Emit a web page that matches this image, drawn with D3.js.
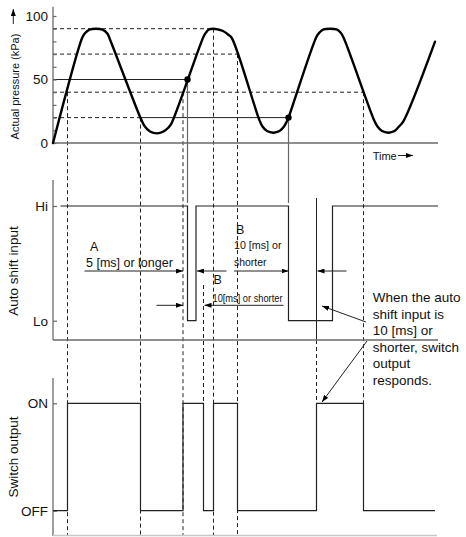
<!doctype html>
<html>
  <head>
    <meta charset="utf-8">
    <title>Auto shift input - timing chart</title>
    <style>
      body { margin: 0; background: #fff; }
      svg { display: block; font-family: "Liberation Sans", Arial, Helvetica, sans-serif; }
      .axis-line { stroke: #6a6a6a; stroke-width: 1.3; fill: none; }
      .guide { stroke: #222; stroke-width: 1; fill: none; }
      .dashed { stroke-dasharray: 4,3; }
      .signal { stroke: #222; stroke-width: 1.2; fill: none; }
      .pressure { stroke: #000; stroke-width: 2.4; fill: none; stroke-linejoin: round; stroke-linecap: round; }
      .gray { stroke: #666; stroke-width: 1.2; }
    </style>
  </head>
  <body>
    <svg id="chart" width="466" height="537"></svg>

<script src="https://cdn.jsdelivr.net/npm/d3@7"></script>

<script>
// pressure wave (time in arbitrary units, pressure in kPa)
var curveTime = [
  0, 5.8, 6.3, 7.3, 8.6, 9.9, 10.9, 11.4,            // rise, 1st peak
  17.4, 18.3, 19.4, 20.8, 22.1, 23.1, 23.7,           // 1st trough
  30.1, 30.6, 31.2, 32.1, 33.0, 34.1, 35.0, 35.7,     // 2nd peak
  41.2, 41.9, 42.8, 44.1, 45.3, 46.2, 46.8, 47.1,     // 2nd trough
  52.7, 53.3, 54.1, 55.4, 56.7, 57.5, 58.1,           // 3rd peak
  64.2, 64.9, 65.8, 67.1, 68.3, 69.2, 70.1,           // 3rd trough
  76.4
];
var curvePressure = [
  0, 82.5, 86, 89.2, 90, 89.2, 86, 81.5,
  20.7, 13.4, 9.1, 7.6, 9.1, 12.2, 15.5,
  83.7, 87, 89.4, 90, 89.4, 88, 85.4, 83.1,
  18.9, 13, 9.4, 8.1, 9.4, 13, 17.3, 20,
  83.7, 87, 89.4, 90, 89.4, 87, 83.1,
  18.1, 13, 9.4, 8.1, 9.4, 13, 17.3,
  79.8
];

var pressureTicks = [0, 10, 20, 30, 40, 50, 60, 70, 80, 90, 100];
var pressureLabels = [0, 50, 100];

// auto shift input (1 = Hi, 0 = Lo)
var inputTime = [1.5, 26.9, 28.6, 47.1, 55.9, 77];
var inputLevel = [1, 0, 1, 0, 1, 1];
var inputLabels = ['Lo', 'Hi'];

// switch output (1 = ON, 0 = OFF)
var outputTime = [0, 2.9, 17.5, 26.0, 30.1, 32.1, 36.9, 52.7, 62.1, 76.4];
var outputLevel = [0, 1, 0, 1, 0, 1, 0, 1, 0, 0];
var outputLabels = ['OFF', 'ON'];

// horizontal set-value lines in the pressure panel
var setLevel = [90, 70, 50, 40, 20];
var setEnd = [32.1, 36.9, 26.9, 62.1, 47.1];
var setSolidFrom = [null, null, 0, null, 17.5];

// dashed drop lines: time and the pressure level they start from
var dropTime = [2.9, 17.5, 26.0, 32.1, 36.9, 62.1];
var dropLevel = [40, 20, 40, 90, 70, 40];

// points on the curve where the input changes
var dotTime = [26.9, 47.1];
var dotLevel = [50, 20];

var noteLines = ['When the auto', 'shift input is', '10 [ms] or', 'shorter, switch', 'output', 'responds.'];

var svg = d3.select('#chart');

var x = d3.scaleLinear().domain([0, 77]).range([53, 438]);
var yP = d3.scaleLinear().domain([0, 100]).range([143, 16]);
var yIn = d3.scaleLinear().domain([0, 1]).range([320.7, 206]);
var yOut = d3.scaleLinear().domain([0, 1]).range([510.7, 403.3]);
var bottom = 536;

svg.append('defs').append('marker')
    .attr('id', 'arrow')
    .attr('viewBox', '0 0 7 5')
    .attr('refX', 7).attr('refY', 2.5)
    .attr('markerWidth', 7).attr('markerHeight', 5)
    .attr('markerUnits', 'userSpaceOnUse')
    .attr('orient', 'auto')
  .append('path')
    .attr('d', 'M0,0L7,2.5L0,5Z')
    .attr('fill', '#000');

function vline(t, y1, y2, cls) {
  return svg.append('line')
      .attr('class', cls)
      .attr('x1', x(t)).attr('x2', x(t))
      .attr('y1', y1).attr('y2', y2);
}

function hline(t1, t2, y, cls) {
  return svg.append('line')
      .attr('class', cls)
      .attr('x1', x(t1)).attr('x2', x(t2))
      .attr('y1', y).attr('y2', y);
}

function arrow(x1, y1, x2, y2) {
  return svg.append('line')
      .attr('class', 'guide')
      .attr('x1', x1).attr('y1', y1)
      .attr('x2', x2).attr('y2', y2)
      .attr('marker-end', 'url(#arrow)');
}

// ---- guides ----
setLevel.forEach(function(p, i) {
  var solidFrom = setSolidFrom[i];
  if (solidFrom === null) {
    hline(0, setEnd[i], yP(p), 'guide dashed');
  } else {
    if (solidFrom > 0) hline(0, solidFrom, yP(p), 'guide dashed');
    hline(solidFrom, setEnd[i], yP(p), 'guide');
  }
});

dropTime.forEach(function(t, i) {
  var end = i === dropTime.length - 1 ? yOut(1) : bottom;
  vline(t, yP(dropLevel[i]), end, 'guide dashed');
});
vline(30.1, 285, yOut(0), 'guide dashed');
vline(52.7, 198, 340, 'guide');
vline(52.7, 340, yOut(1), 'guide dashed');

dotTime.forEach(function(t, i) {
  vline(t, yP(dotLevel[i]), 203, 'gray');
});

// ---- axes ----
vline(0, 6.7, yP(0), 'axis-line');
hline(0, 77, yP(0), 'axis-line');
vline(0, 180, 340, 'axis-line');
hline(0, 77, 340, 'axis-line');
vline(0, 378, bottom, 'axis-line');
hline(0, 76.8, bottom - 0.5, '').attr('stroke', '#c8c8c8').attr('stroke-width', 1.3);

function styleAxis(g) {
  g.select('.domain').remove();
  g.selectAll('.tick line').attr('stroke', '#6a6a6a').attr('stroke-width', 1.2);
  g.selectAll('.tick text')
      .attr('fill', '#111')
      .attr('font-size', 13.5)
      .attr('font-family', '"Liberation Sans", Arial, sans-serif');
}

svg.append('g')
    .attr('transform', 'translate(' + x(0) + ',0)')
    .call(d3.axisLeft(yP).tickValues(pressureTicks).tickSizeInner(-3.5).tickSizeOuter(0).tickPadding(5)
      .tickFormat(function(d) { return pressureLabels.indexOf(d) >= 0 ? d : ''; }))
    .call(styleAxis);

svg.append('g')
    .attr('transform', 'translate(' + x(0) + ',0)')
    .call(d3.axisLeft(yIn).tickValues([0, 1]).tickSizeInner(-4).tickSizeOuter(0).tickPadding(5)
      .tickFormat(function(d) { return inputLabels[d]; }))
    .call(styleAxis);

svg.append('g')
    .attr('transform', 'translate(' + x(0) + ',0)')
    .call(d3.axisLeft(yOut).tickValues([0, 1]).tickSizeInner(-4).tickSizeOuter(0).tickPadding(5)
      .tickFormat(function(d) { return outputLabels[d]; }))
    .call(styleAxis);

// axis titles
function vtitle(text, cx, cy, size) {
  svg.append('text')
      .attr('transform', 'translate(' + cx + ',' + cy + ') rotate(-90)')
      .attr('text-anchor', 'middle')
      .attr('dominant-baseline', 'middle')
      .attr('font-size', size)
      .attr('fill', '#111')
      .text(text);
}
vtitle('Actual pressure (kPa)', 16, 86.5, 11);
vtitle('Auto shift input', 14.5, 271, 13.5);
vtitle('Switch output', 14.5, 457, 13.5);
arrow(13.3, 24, 13.3, 9);

svg.append('text').attr('x', 372.7).attr('y', 159.5).attr('font-size', 11).attr('fill', '#111').text('Time');
arrow(398, 155.5, 413, 155.5);

// ---- signals ----
var pressureLine = d3.line()
    .x(function(d) { return x(d[0]); })
    .y(function(d) { return yP(d[1]); })
    .curve(d3.curveCatmullRom.alpha(0.5));

svg.append('path')
    .datum(d3.zip(curveTime, curvePressure))
    .attr('class', 'pressure')
    .attr('d', pressureLine);

svg.selectAll('circle.dot')
    .data(d3.zip(dotTime, dotLevel))
  .enter().append('circle')
    .attr('class', 'dot')
    .attr('cx', function(d) { return x(d[0]); })
    .attr('cy', function(d) { return yP(d[1]); })
    .attr('r', 3.2)
    .attr('fill', '#000');

var inputLine = d3.line()
    .x(function(d) { return x(d[0]); })
    .y(function(d) { return yIn(d[1]); })
    .curve(d3.curveStepAfter);
svg.append('path')
    .datum(d3.zip(inputTime, inputLevel))
    .attr('class', 'signal')
    .attr('d', inputLine);

var outputLine = d3.line()
    .x(function(d) { return x(d[0]); })
    .y(function(d) { return yOut(d[1]); })
    .curve(d3.curveStepAfter);
svg.append('path')
    .datum(d3.zip(outputTime, outputLevel))
    .attr('class', 'signal')
    .attr('d', outputLine);

// ---- annotations ----
function label(text, lx, ly, size, len) {
  var t = svg.append('text')
      .attr('x', lx).attr('y', ly)
      .attr('font-size', size)
      .attr('fill', '#111')
      .text(text);
  if (len) t.attr('textLength', len).attr('lengthAdjust', 'spacingAndGlyphs');
  return t;
}

// A: 5 [ms] or longer
label('A', 90, 251, 12.5);
label('5 [ms] or longer', 86, 266.7, 12.5);
arrow(x(6.3), 271, x(26.0), 271);
arrow(x(34.7), 271, x(28.6) + 1, 271);

// B: 10 [ms] or shorter
label('B', 236, 234.3, 12.5);
label('10 [ms] or', 234, 249, 11.5, 47.5);
label('shorter', 234, 265.7, 11.5, 32.5);
arrow(x(36.2), 271, x(47.1), 271);
arrow(x(58.7), 271, x(52.7) + 1, 271);

label('B', 213.5, 284.3, 12.5);
label('10[ms] or shorter', 212.5, 301.7, 11.5, 70);
arrow(x(20.7), 305.3, x(26.0), 305.3);
arrow(x(46.1), 305.3, x(30.1) + 1, 305.3);

svg.append('g')
  .selectAll('text')
    .data(noteLines)
  .enter().append('text')
    .attr('x', 372.7)
    .attr('y', function(d, i) { return 302 + i * 16.6; })
    .attr('font-size', 13.5)
    .attr('fill', '#111')
    .text(function(d) { return d; });

arrow(366, 322, 322, 306);
arrow(367, 341, 322, 402);
</script>
  </body>
</html>
